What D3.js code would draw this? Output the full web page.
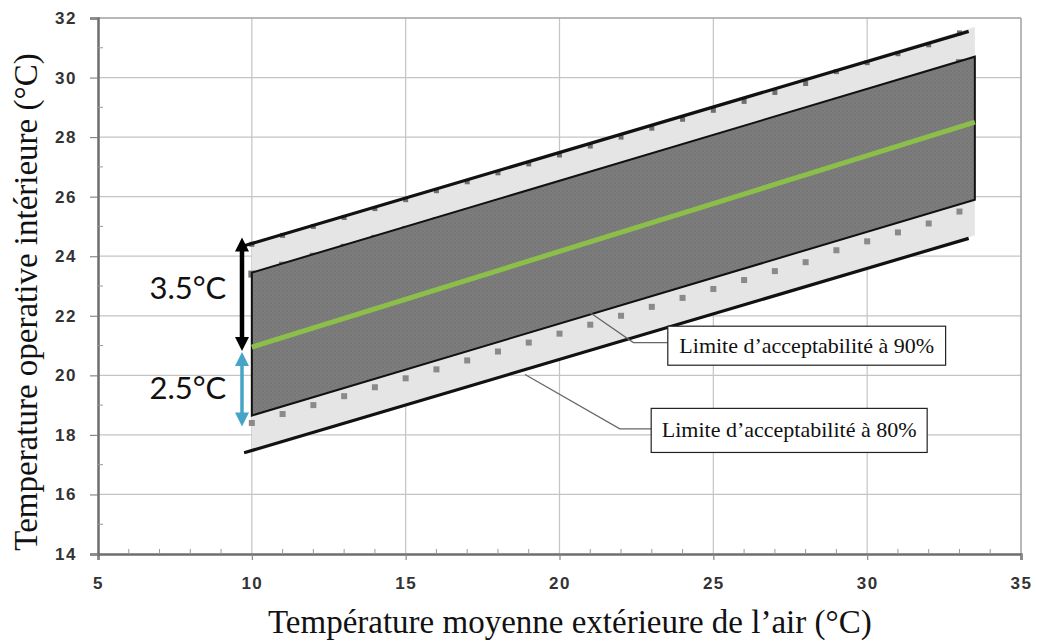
<!DOCTYPE html>
<html>
<head>
<meta charset="utf-8">
<script src="https://cdn.jsdelivr.net/npm/d3@7"></script>
<style>
  body { margin: 0; background: #fff; }
  svg { display: block; }
</style>
</head>
<body>
<div id="chart"></div>
<script>
// axis ticks
const xTicks = [5, 10, 15, 20, 25, 30, 35];
const yTicks = [14, 16, 18, 20, 22, 24, 26, 28, 30, 32];

// outdoor temperatures where the square markers sit
const markerX = [10, 11, 12, 13, 14, 15, 16, 17, 18, 19, 20, 21, 22, 23, 24, 25, 26, 27, 28, 29, 30, 31, 32, 33];
// markers
const lower90 = [18.4, 18.7, 19.0, 19.3, 19.6, 19.9, 20.2, 20.5, 20.8, 21.1, 21.4, 21.7, 22.0, 22.3, 22.6, 22.9, 23.2, 23.5, 23.8, 24.2, 24.5, 24.8, 25.1, 25.5];
const upper90 = [23.4, 23.7, 24.0, 24.3, 24.6, 24.9, 25.2, 25.5, 25.8, 26.1, 26.4, 26.7, 27.0, 27.3, 27.6, 27.9, 28.2, 28.5, 28.8, 29.2, 29.5, 29.8, 30.1, 30.5];
const upper80 = [24.4, 24.7, 25.0, 25.3, 25.6, 25.9, 26.2, 26.5, 26.8, 27.1, 27.4, 27.7, 28.0, 28.3, 28.6, 28.9, 29.2, 29.5, 29.8, 30.2, 30.5, 30.8, 31.1, 31.5];

// bands (start / end)
const bandX = [10, 33.5];
const band80Low = [17.4, 24.7];
const band80High = [24.4, 31.7];
const band90Low = [18.65, 25.9];
const band90High = [23.45, 30.7];
const neutral = [20.95, 28.5];

// black limit lines drawn over the 80% band
const limitX = [9.75, 33.3];
const limit80High = [24.35, 31.55];
const limit80Low = [17.4, 24.6];

const width = 1037, height = 644;
const margin = {top: 18, right: 16, bottom: 90, left: 98};
const innerW = width - margin.left - margin.right;
const innerH = height - margin.top - margin.bottom;

const svg = d3.select('#chart').append('svg')
    .attr('width', width)
    .attr('height', height);

// texture for the dark band
const defs = svg.append('defs');
const pat = defs.append('pattern')
    .attr('id', 'dark')
    .attr('width', 4).attr('height', 4)
    .attr('patternUnits', 'userSpaceOnUse');
pat.append('rect').attr('width', 4).attr('height', 4).attr('fill', '#7d7d7d');
pat.append('rect').attr('width', 2).attr('height', 2).attr('fill', '#767676');
pat.append('rect').attr('x', 2).attr('y', 2).attr('width', 2).attr('height', 2).attr('fill', '#797979');

const g = svg.append('g').attr('transform', `translate(${margin.left},${margin.top})`);

const x = d3.scaleLinear().domain([5, 35]).range([0, innerW]);
const y = d3.scaleLinear().domain([14, 32]).range([innerH, 0]);

// grid
g.append('g').selectAll('line').data(xTicks.slice(1, -1)).enter().append('line')
    .attr('x1', d => x(d)).attr('x2', d => x(d))
    .attr('y1', 0).attr('y2', innerH)
    .attr('stroke', '#c4c4c4').attr('stroke-width', 1.2);
g.append('g').selectAll('line').data(yTicks.slice(1, -1)).enter().append('line')
    .attr('x1', 0).attr('x2', innerW)
    .attr('y1', d => y(d)).attr('y2', d => y(d))
    .attr('stroke', '#c4c4c4').attr('stroke-width', 1.2);
// frame top / right
g.append('line').attr('x1', 0).attr('x2', innerW).attr('y1', 0).attr('y2', 0)
    .attr('stroke', '#a0a0a0').attr('stroke-width', 1.5);
g.append('line').attr('x1', innerW).attr('x2', innerW).attr('y1', 0).attr('y2', innerH)
    .attr('stroke', '#a0a0a0').attr('stroke-width', 1.5);

// light band (80%)
const areaGen = d3.area()
    .x((d, i) => x(bandX[i]))
    .y0(d => y(d[0]))
    .y1(d => y(d[1]));
g.append('path')
    .datum(d3.zip(band80Low, band80High))
    .attr('d', areaGen)
    .attr('fill', '#e5e5e5');

// square markers
function markers(vals, size, color) {
    g.append('g').selectAll('rect').data(vals).enter().append('rect')
        .attr('x', (d, i) => x(markerX[i]) - size / 2)
        .attr('y', d => y(d) - size / 2)
        .attr('width', size).attr('height', size)
        .attr('fill', color);
}
markers(lower90, 6, '#8a8a8a');
markers(upper80, 5, '#6f6f6f');
markers(upper90, 7, '#7a7a7a');

// dark band (90%)
g.append('path')
    .datum(d3.zip(band90Low, band90High))
    .attr('d', areaGen)
    .attr('fill', 'url(#dark)')
    .attr('stroke', '#111')
    .attr('stroke-width', 2)
    .attr('stroke-linejoin', 'miter');

// neutral temperature
const lineGen = d3.line().x((d, i) => x(bandX[i])).y(d => y(d));
g.append('path').datum(neutral).attr('d', lineGen)
    .attr('fill', 'none').attr('stroke', '#8cbf4a').attr('stroke-width', 5);

// 80% limit lines
const limitLine = d3.line().x((d, i) => x(limitX[i])).y(d => y(d));
[limit80High, limit80Low].forEach(vals => {
    g.append('path').datum(vals).attr('d', limitLine)
        .attr('fill', 'none').attr('stroke', '#111').attr('stroke-width', 3.2);
});

// axes
const xAxis = g.append('g').attr('transform', `translate(0,${innerH})`)
    .call(d3.axisBottom(x).tickValues(xTicks).tickSize(6).tickPadding(17));
const yAxis = g.append('g')
    .call(d3.axisLeft(y).tickValues(yTicks).tickSize(8).tickPadding(13));
[xAxis, yAxis].forEach(a => {
    a.select('.domain').attr('stroke', '#6e6e6e').attr('stroke-width', 2.5);
    a.selectAll('.tick line').attr('stroke', '#888').attr('stroke-width', 1.2);
    a.selectAll('.tick text')
        .attr('font-family', 'Liberation Sans, Arial, sans-serif')
        .attr('font-weight', 'bold')
        .attr('font-size', 17)
        .attr('fill', '#333')
        .attr('letter-spacing', 1.5);
});
// minor ticks, inside
const minorX = d3.range(6, 35).filter(v => v % 5 !== 0);
const minorY = d3.range(15, 32, 2);
g.append('g').selectAll('line').data(minorX).enter().append('line')
    .attr('x1', d => x(d)).attr('x2', d => x(d))
    .attr('y1', innerH).attr('y2', innerH - 5)
    .attr('stroke', '#999').attr('stroke-width', 1);
g.append('g').selectAll('line').data(minorY).enter().append('line')
    .attr('x1', 0).attr('x2', 5)
    .attr('y1', d => y(d)).attr('y2', d => y(d))
    .attr('stroke', '#999').attr('stroke-width', 1);

// axis titles
svg.append('text')
    .attr('x', 268).attr('y', 633)
    .attr('text-anchor', 'start')
    .attr('font-family', 'Liberation Serif, Times New Roman, serif')
    .attr('font-size', 33)
    .attr('fill', '#111')
    .text('Température moyenne extérieure de l’air (°C)');
svg.append('text')
    .attr('transform', 'translate(37,302) rotate(-90)')
    .attr('text-anchor', 'middle')
    .attr('font-family', 'Liberation Serif, Times New Roman, serif')
    .attr('font-size', 33)
    .attr('fill', '#111')
    .text('Temperature operative intérieure (°C)');

// double arrows showing the offsets
const arrowX = 9.68;
const arrows = [
    {from: 24.63, to: 20.82, color: '#000', w: 4.5},
    {from: 20.78, to: 18.28, color: '#45a5c6', w: 3.5}
];
arrows.forEach(a => {
    const ax = x(arrowX), y1 = y(a.from), y2 = y(a.to);
    const head = 14, half = 7;
    g.append('line').attr('x1', ax).attr('x2', ax)
        .attr('y1', y1 + head - 2).attr('y2', y2 - head + 2)
        .attr('stroke', a.color).attr('stroke-width', a.w);
    g.append('path')
        .attr('d', `M${ax},${y1}L${ax - half},${y1 + head}L${ax + half},${y1 + head}Z`)
        .attr('fill', a.color);
    g.append('path')
        .attr('d', `M${ax},${y2}L${ax - half},${y2 - head}L${ax + half},${y2 - head}Z`)
        .attr('fill', a.color);
});
const offsetLabels = [
    {text: '3.5°C', v: 22.55},
    {text: '2.5°C', v: 19.2}
];
g.selectAll('.off').data(offsetLabels).enter().append('text')
    .attr('class', 'off')
    .attr('x', x(9.17))
    .attr('y', d => y(d.v))
    .attr('text-anchor', 'end')
    .attr('font-family', 'Lato, Open Sans, sans-serif')
    .attr('font-size', 31)
    .attr('fill', '#111')
    .text(d => d.text);

// callout boxes
const callouts = [
    {text: 'Limite d’acceptabilité à 90%', pts: [[21.0, 22.1], [22.4, 21.1], [23.52, 21.1]], box: [23.52, 32.55, 21.65, 20.34]},
    {text: 'Limite d’acceptabilité à 80%', pts: [[18.88, 20.03], [21.96, 18.2], [22.98, 18.2]], box: [22.98, 31.95, 18.89, 17.41]}
];
callouts.forEach(c => {
    g.append('path')
        .attr('d', d3.line().x(p => x(p[0])).y(p => y(p[1]))(c.pts))
        .attr('fill', 'none').attr('stroke', '#666').attr('stroke-width', 1.3);
    const bx = x(c.box[0]), by = y(c.box[2]);
    const bw = x(c.box[1]) - bx, bh = y(c.box[3]) - by;
    g.append('rect').attr('x', bx).attr('y', by).attr('width', bw).attr('height', bh)
        .attr('fill', '#fff').attr('stroke', '#222').attr('stroke-width', 1.2);
    g.append('text')
        .attr('x', bx + bw / 2).attr('y', by + bh / 2 + 7)
        .attr('text-anchor', 'middle')
        .attr('font-family', 'Liberation Serif, Times New Roman, serif')
        .attr('font-size', 22)
        .attr('fill', '#111')
        .text(c.text);
});
</script>
</body>
</html>
